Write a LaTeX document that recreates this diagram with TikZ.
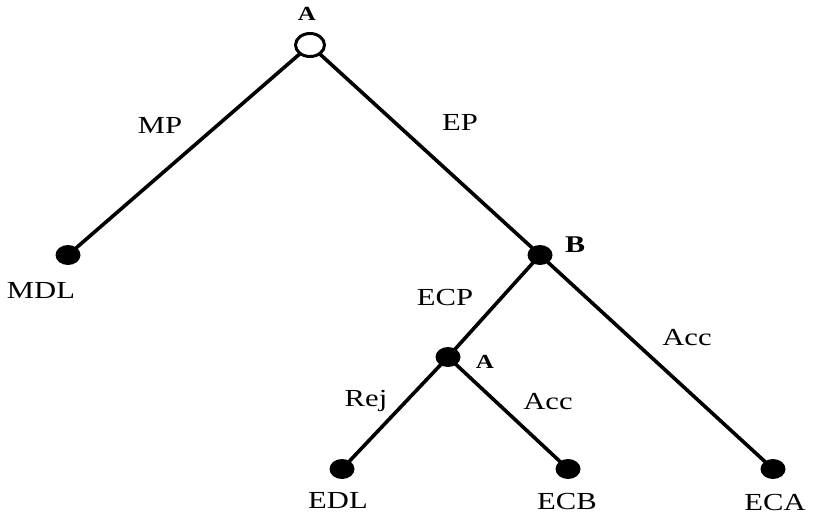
\documentclass[tikz,border=0pt]{standalone}
\usepackage{fontspec}
\setmainfont{Liberation Serif}[FakeStretch=1.25]
\usetikzlibrary{shapes.geometric}
\begin{document}
\begin{tikzpicture}[x=1pt,y=-1pt,
  leaf/.style={ellipse,fill=black,inner sep=0pt,minimum width=25pt,minimum height=20pt},
  root/.style={ellipse,draw=black,line width=3pt,fill=white,inner sep=0pt,minimum width=29pt,minimum height=23pt},
  edge/.style={line width=3.6pt},
  lbl/.style={font=\fontsize{24.5pt}{26pt}\selectfont,inner sep=0pt},
  plabel/.style={font=\fontsize{24pt}{26pt}\selectfont\bfseries,inner sep=0pt},
  smallplabel/.style={font=\fontsize{20pt}{22pt}\selectfont\bfseries,inner sep=0pt}]
  \useasboundingbox (0,0) rectangle (818,515);
  % decision nodes and outcomes
  \node[leaf] (mdl) at (68,255) {};
  \node[leaf] (b) at (540,255) {};
  \node[leaf] (a2) at (448,357) {};
  \node[leaf] (edl) at (342,469) {};
  \node[leaf] (ecb) at (568,469) {};
  \node[leaf] (eca) at (773,469) {};
  % branches
  \draw[edge] (310,45) coordinate (rc) -- (mdl.center);
  \draw[edge] (rc) -- (b.center);
  \draw[edge] (b.center) -- (a2.center);
  \draw[edge] (b.center) -- (eca.center);
  \draw[edge] (a2.center) -- (edl.center);
  \draw[edge] (a2.center) -- (ecb.center);
  \node[root] (a1) at (rc) {};
  % player labels
  \node[smallplabel] at (307,14) {A};
  \node[plabel] at (575,245) {B};
  \node[smallplabel] at (485,362) {A};
  % action labels
  \node[lbl] at (160,125) {MP};
  \node[lbl] at (460,122) {EP};
  \node[lbl] at (445,297) {ECP};
  \node[lbl] at (687,338) {Acc};
  \node[lbl] at (366,401) {Rej};
  \node[lbl] at (548,402) {Acc};
  % outcome labels
  \node[lbl] at (41,290) {MDL};
  \node[lbl] at (338,500) {EDL};
  \node[lbl] at (567,501) {ECB};
  \node[lbl] at (775,502) {ECA};
\end{tikzpicture}
\end{document}
